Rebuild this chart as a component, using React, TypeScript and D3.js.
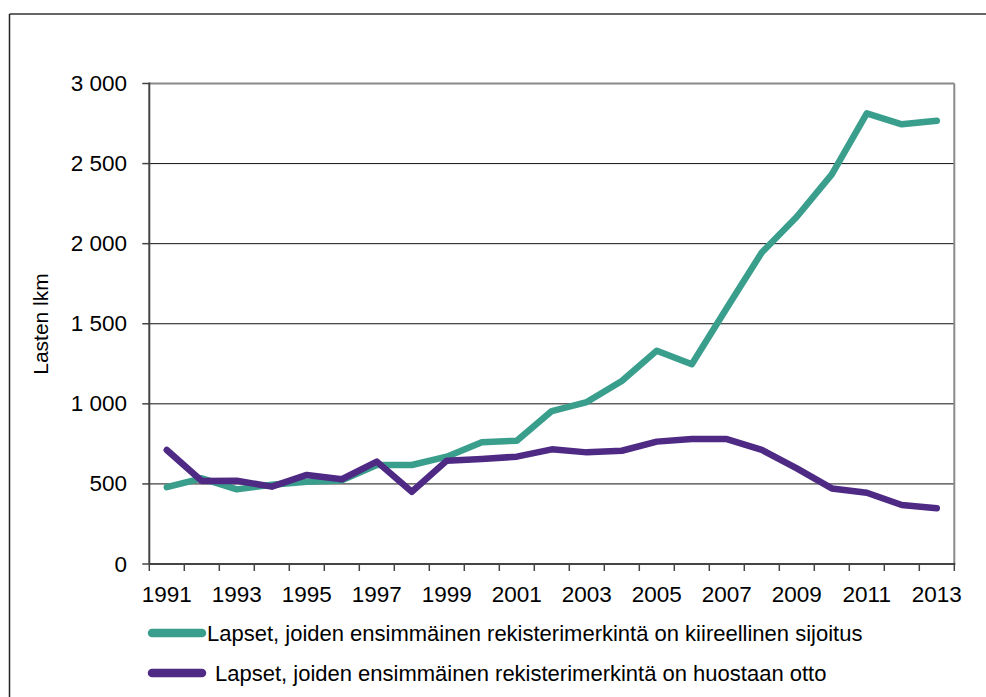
import React from "react";
import * as d3 from "d3";

const years: number[] = [1991,1992,1993,1994,1995,1996,1997,1998,1999,2000,2001,2002,2003,2004,2005,2006,2007,2008,2009,2010,2011,2012,2013];
const kiireellinen: number[] = [480,535,466,495,514,522,618,618,670,760,770,955,1011,1143,1332,1247,1598,1945,2168,2433,2814,2745,2768];
const huostaanotto: number[] = [712,518,520,483,556,529,639,451,645,656,670,716,697,707,764,780,780,712,597,472,445,368,348];
const yTicks: number[] = [0,500,1000,1500,2000,2500,3000];
const seriesNames: string[] = [
  "Lapset, joiden ensimmäinen rekisterimerkintä on kiireellinen sijoitus",
  "Lapset, joiden ensimmäinen rekisterimerkintä on huostaan otto",
];
const seriesColors: string[] = ["#3A9E8D", "#4E2A84"];
const yTitle = "Lasten lkm";

const fmt = (v: number) => d3.format(",")(v).replace(/,/g, " ");

export default function App() {
  const W = 986, H = 697;
  const left = 149.3, right = 954.3, top = 83.5, bottom = 564;
  const x = d3.scaleBand<number>().domain(years).range([left, right]).padding(0);
  const y = d3.scaleLinear().domain([0, 3000]).range([bottom, top]);
  const cx = (yr: number) => (x(yr) as number) + x.bandwidth() / 2;
  const line = d3.line<number>().x((_, i) => cx(years[i])).y((d) => y(d));
  const series = [kiireellinen, huostaanotto];
  const font = "'Liberation Sans', Arial, sans-serif";
  const tickEdges = years.map((yr) => x(yr) as number).concat([right]);

  return (
    <svg width={W} height={H} style={{ position: "absolute", left: 0, top: 0, background: "#fff" }} fontFamily={font}>
      <rect x={0} y={0} width={W} height={H} fill="#fff" />
      {/* outer frame */}
      <line x1={9.5} x2={W} y1={14} y2={14} stroke="#333" strokeWidth={1.5} />
      <line x1={9.5} x2={9.5} y1={14} y2={H} stroke="#222" strokeWidth={1.5} />
      {/* gridlines */}
      {yTicks.filter((t) => t > 0 && t < 3000).map((t) => (
        <line key={t} x1={left} x2={right} y1={y(t)} y2={y(t)} stroke="#111" strokeWidth={1} />
      ))}
      {/* plot border top/right */}
      <line x1={left} x2={right} y1={top} y2={top} stroke="#8a8a8a" strokeWidth={2} />
      <line x1={right} x2={right} y1={top} y2={bottom} stroke="#8a8a8a" strokeWidth={2} />
      {/* y axis */}
      <line x1={left} x2={left} y1={top - 1} y2={bottom} stroke="#444" strokeWidth={2} />
      {yTicks.map((t) => (
        <g key={t}>
          <line x1={left - 7} x2={left} y1={y(t)} y2={y(t)} stroke="#444" strokeWidth={1.5} />
          <text x={127} y={y(t)} textAnchor="end" dominantBaseline="central" fontSize={22.5} fill="#000">{fmt(t)}</text>
        </g>
      ))}
      {/* x axis */}
      <line x1={left} x2={right + 1} y1={bottom} y2={bottom} stroke="#444" strokeWidth={2} />
      {tickEdges.map((tx, i) => (
        <line key={i} x1={tx} x2={tx} y1={bottom} y2={bottom + 7} stroke="#444" strokeWidth={1.5} />
      ))}
      {years.filter((yr) => yr % 2 === 1).map((yr) => (
        <text key={yr} x={cx(yr)} y={601.5} textAnchor="middle" fontSize={22.5} fill="#000">{yr}</text>
      ))}
      {/* y title */}
      <text transform={`translate(48,324) rotate(-90)`} textAnchor="middle" fontSize={21} fill="#000">{yTitle}</text>
      {/* series */}
      {series.map((s, i) => (
        <path key={i} d={line(s) as string} fill="none" stroke={seriesColors[i]} strokeWidth={6.5} strokeLinejoin="round" strokeLinecap="round" />
      ))}
      {/* legend */}
      {seriesNames.map((name, i) => {
        const ly = 633 + i * 40;
        return (
          <g key={i}>
            <line x1={152} x2={202} y1={ly} y2={ly} stroke={seriesColors[i]} strokeWidth={8.5} strokeLinecap="round" />
            <text x={i === 0 ? 207 : 215} y={ly} dominantBaseline="central" fontSize={22} fill="#000">{name}</text>
          </g>
        );
      })}
    </svg>
  );
}
